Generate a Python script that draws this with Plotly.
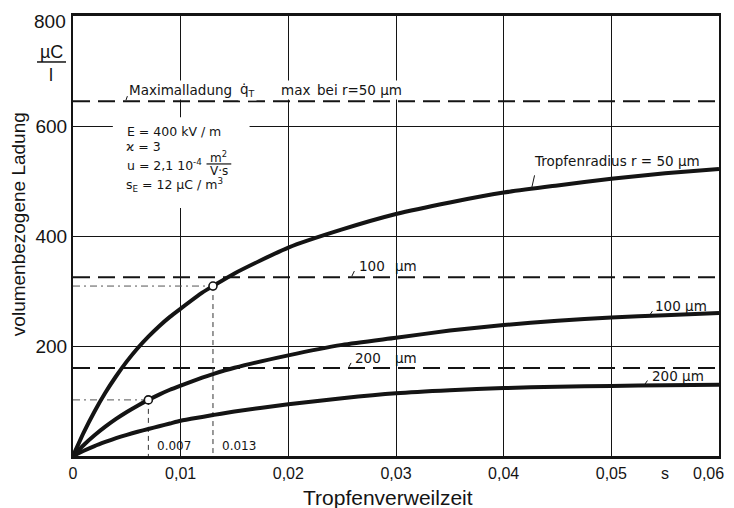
import plotly.graph_objects as go

# ---------------- data ----------------
t = [0, 0.001, 0.002, 0.003, 0.004, 0.005, 0.006, 0.007, 0.008, 0.009, 0.010,
     0.012, 0.013, 0.015, 0.020, 0.025, 0.030, 0.035, 0.040, 0.045, 0.050, 0.055, 0.060]
q_r50 = [0, 43, 81, 115, 145, 172, 196, 217, 236, 253, 268,
         297, 309, 332, 379, 412, 440, 461, 479, 492, 504, 514, 522]
q_r100 = [0, 20, 37.6, 53.3, 67.4, 80, 91.5, 102, 111.6, 120.4, 128,
          142.5, 149, 160.5, 183, 202, 215, 228, 238, 246, 252, 256, 260]
q_r200 = [0, 9.5, 18, 25.5, 32.5, 38.5, 44, 49, 54, 59, 64,
          71, 74.5, 81, 94, 105, 114, 119.5, 123.5, 126, 127.5, 128.5, 129.5]

# maximum charge levels (dashed) for r = 50, 100, 200 µm
q_max = [645, 325, 160]

# marked points with projection lines
proj_t = [0.007, 0.013]
proj_q = [102, 309]

x_ticks = [0, 0.01, 0.02, 0.03, 0.04, 0.05, 0.06]
x_ticktext = ["0", "0,01", "0,02", "0,03", "0,04", "0,05", "0,06"]
y_ticks = [200, 400, 600]
y_ticktext = ["200", "400", "600"]

INK = "#141414"
ANN_FONT = "DejaVu Sans"
AX_FONT = "Liberation Sans"

fig = go.Figure()

# dashed maximum levels
for qm in q_max:
    fig.add_trace(go.Scatter(x=[x_ticks[0], x_ticks[-1]], y=[qm, qm], mode="lines",
                             line=dict(color=INK, width=1.8, dash="17px,8px"),
                             showlegend=False, hoverinfo="skip"))

# projection lines
for pt, pq in zip(proj_t, proj_q):
    fig.add_trace(go.Scatter(x=[0, pt], y=[pq, pq], mode="lines",
                             line=dict(color="#555", width=1, dash="7px,4px,2px,4px"),
                             showlegend=False, hoverinfo="skip"))
    fig.add_trace(go.Scatter(x=[pt, pt], y=[pq, 0], mode="lines",
                             line=dict(color="#333", width=1, dash="5px,4px"),
                             showlegend=False, hoverinfo="skip"))

# main curves
for q in (q_r50, q_r100, q_r200):
    fig.add_trace(go.Scatter(x=t, y=q, mode="lines",
                             line=dict(color=INK, width=4, shape="spline", smoothing=0.6),
                             showlegend=False, hoverinfo="skip"))

# open circle markers
fig.add_trace(go.Scatter(x=proj_t, y=proj_q, mode="markers",
                         marker=dict(symbol="circle", size=8, color="white",
                                     line=dict(color=INK, width=1.6)),
                         showlegend=False, hoverinfo="skip"))

shapes = []
# white background behind parameter block
shapes.append(dict(type="rect", xref="x", yref="y", x0=0.0037, x1=0.0164, y0=451, y1=616,
                   fillcolor="white", line=dict(width=0), layer="above"))
# fraction bar of m^2 / V·s
shapes.append(dict(type="line", xref="x", yref="y", x0=0.0124, x1=0.0147, y0=531, y1=531,
                   line=dict(color=INK, width=1.2), layer="above"))
# fraction bar of µC / l (unit of y axis)
shapes.append(dict(type="line", xref="paper", yref="paper", x0=-0.0557, x1=-0.0108,
                   y0=0.8955, y1=0.8955, line=dict(color=INK, width=1.5)))

ann = []

def label(x, y, text, size=13.5, xanchor="left", bg=None, font=ANN_FONT, **kw):
    d = dict(x=x, y=y, text=text, showarrow=False, xanchor=xanchor, yanchor="middle",
             font=dict(family=font, size=size, color=INK))
    if bg:
        d["bgcolor"] = bg
        d["borderpad"] = 1
    d.update(kw)
    ann.append(d)

def leader(x0, y0, x1, y1):
    ann.append(dict(x=x1, y=y1, ax=x0, ay=y0, axref="x", ayref="y", xref="x", yref="y",
                    text="", showarrow=True, arrowhead=0, arrowwidth=1,
                    arrowcolor=INK, standoff=0, startstandoff=0))

# curve labels
label(0.0505, 536, "Tropfenradius r = 50 µm", xanchor="center")
leader(0.0429, 513, 0.0426, 487)
label(0.0539, 273, "100 µm")
leader(0.0539, 266, 0.0536, 257)
label(0.0536, 145, "200 µm")
leader(0.05345, 140, 0.0531, 130)

# dashed level labels
label(0.02637, 346, "100")
label(0.02971, 346, "µm")
leader(0.0262, 339, 0.0259, 327)
label(0.0260, 178, "200")
label(0.02971, 178, "µm")
leader(0.0259, 172, 0.02563, 162)

# maximum charge label
label(0.00501, 665, "Maximalladung", bg="white")
label(0.01532, 665, "q\u0307<sub>T</sub>", bg="white")
label(0.01913, 665, "max", bg="white")
label(0.02247, 665, "bei r=50 µm", bg="white")
leader(0.0051, 657, 0.00492, 647)

# parameter block
label(0.00483, 590, "E = 400 kV / m", size=12.5)
label(0.00474, 563, "\u03f0 = 3", size=12.5)
label(0.00483, 529, "u = 2,1 10<sup>-4</sup>", size=12.5)
label(0.01355, 544, "m<sup>2</sup>", size=12, xanchor="center")
label(0.01355, 519, "V·s", size=12, xanchor="center")
label(0.00474, 493, "s<sub>E</sub> = 12 µC / m<sup>3</sup>", size=12.5)

# projection value labels
for pt in proj_t:
    label(pt, 18, f"{pt:.3f}", size=12, xshift=7)

# last x tick label, nudged inwards so it stays inside the window
ann.append(dict(x=x_ticks[-1], y=-0.039, xref="x", yref="paper", text=x_ticktext[-1],
                showarrow=False, xanchor="center", yanchor="middle", xshift=-11,
                font=dict(family=AX_FONT, size=16, color=INK)))

# axis decorations
ann.append(dict(x=-0.0077, y=0.9875, xref="paper", yref="paper", text="800", showarrow=False,
                xanchor="right", yanchor="middle", font=dict(family=AX_FONT, size=19, color=INK)))
ann.append(dict(x=-0.034, y=0.918, xref="paper", yref="paper", text="µC", showarrow=False,
                xanchor="center", yanchor="middle", font=dict(family=AX_FONT, size=18, color=INK)))
ann.append(dict(x=-0.034, y=0.866, xref="paper", yref="paper", text="l", showarrow=False,
                xanchor="center", yanchor="middle", font=dict(family=AX_FONT, size=18, color=INK)))
ann.append(dict(x=0.055, y=-0.039, xref="x", yref="paper", text="s", showarrow=False,
                xanchor="center", yanchor="middle", font=dict(family=AX_FONT, size=16, color=INK)))
ann.append(dict(x=-0.0851, y=0.527, xref="paper", yref="paper", text="volumenbezogene Ladung",
                textangle=-90, showarrow=False, xanchor="center", yanchor="middle",
                font=dict(family=AX_FONT, size=19, color=INK)))
ann.append(dict(x=0.4876, y=-0.0932, xref="paper", yref="paper", text="Tropfenverweilzeit",
                showarrow=False, xanchor="center", yanchor="middle",
                font=dict(family=AX_FONT, size=21, color=INK)))

# the page places the figure 8 px from the top-left corner of the window,
# so the figure is 8 px smaller and its left/top margins 8 px narrower
fig.update_layout(
    width=726, height=500,
    margin=dict(l=65, r=15, t=8, b=52, autoexpand=False),
    paper_bgcolor="white", plot_bgcolor="white",
    shapes=shapes, annotations=ann,
    xaxis=dict(range=[0, 0.06], tickvals=x_ticks, ticktext=x_ticktext[:-1] + [""],
               automargin=False,
               showgrid=True, gridcolor=INK, gridwidth=1.3, zeroline=False,
               showline=True, linecolor=INK, linewidth=2.5, mirror=True, ticks="",
               tickfont=dict(family=AX_FONT, size=16, color=INK), ticklabelstandoff=1),
    yaxis=dict(range=[0, 800], tickvals=y_ticks, ticktext=y_ticktext, automargin=False,
               showgrid=True, gridcolor=INK, gridwidth=1.3, zeroline=False,
               showline=True, linecolor=INK, linewidth=2.2, mirror=True, ticks="",
               tickfont=dict(family=AX_FONT, size=19, color=INK)),
)

fig.write_html("out.html")
